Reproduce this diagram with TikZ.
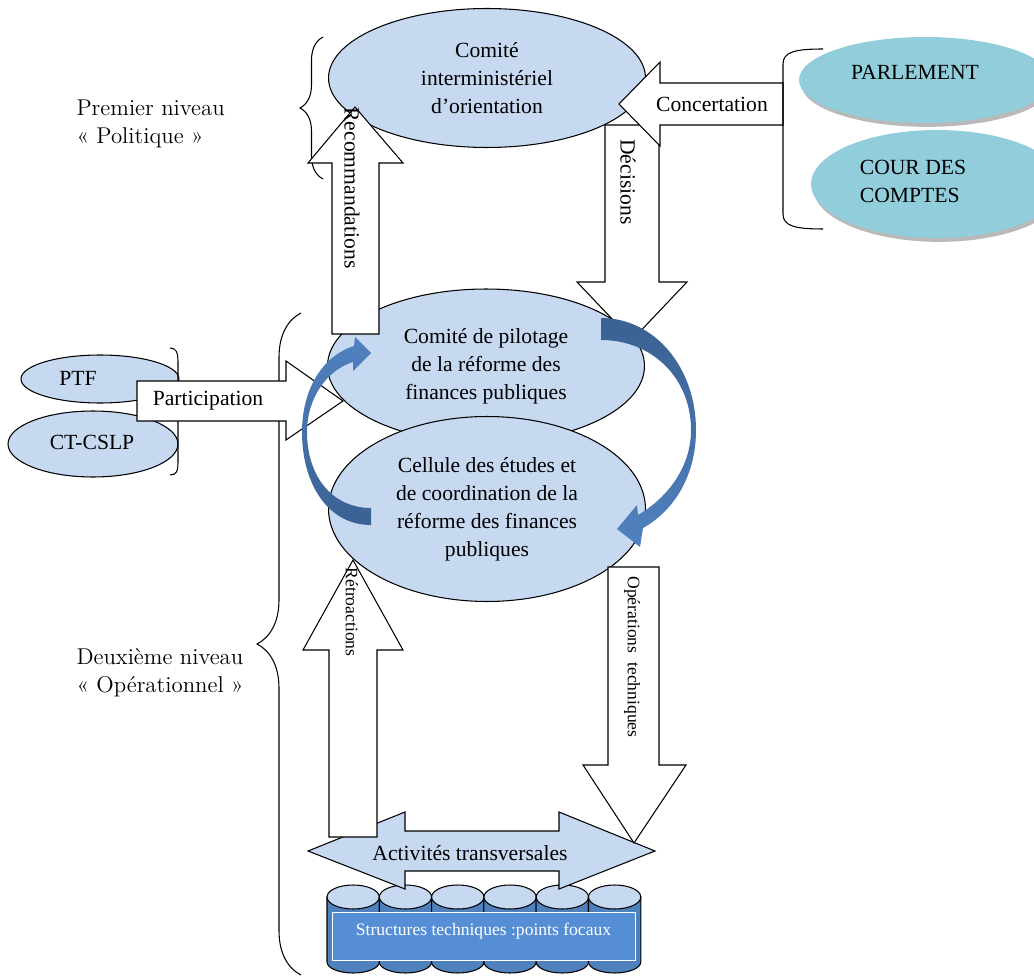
\documentclass[tikz,border=0pt]{standalone}
\usepackage{fontspec}
\newfontfamily\tnr{Liberation Serif}
\usetikzlibrary{shapes.geometric,shadows,decorations.pathreplacing}

\definecolor{paleblue}{RGB}{198,217,241}
\definecolor{seablue}{RGB}{146,205,220}
\definecolor{curvelight}{RGB}{80,130,192}
\definecolor{curvedark}{RGB}{58,97,146}
\definecolor{drumblue}{RGB}{79,129,189}
\definecolor{labelblue}{RGB}{85,142,213}

\newcommand{\diagfont}{\tnr\fontsize{12.3}{15.9}\selectfont}
\newcommand{\smallfont}{\tnr\fontsize{10}{12}\selectfont}
\newcommand{\levelfont}{\fontsize{13}{15.9}\selectfont}

\tikzstyle{instance} = [draw, ellipse, fill=paleblue, inner sep=0pt, align=center, font=\diagfont]
\tikzstyle{donor} = [draw, ellipse, fill=paleblue, inner sep=0pt]
\tikzstyle{partner} = [
    ellipse,
    fill=seablue,
    inner sep=0pt,
    drop shadow={shadow xshift=1.2pt, shadow yshift=-2.2pt, fill=black!55, opacity=.5}]
\tikzstyle{flow} = [draw, fill=white, line join=miter]
\tikzstyle{flowtext} = [inner sep=0pt, font=\diagfont]
\tikzstyle{level} = [anchor=west, align=left, inner sep=0pt, font=\levelfont]
\tikzstyle{drum} = [draw, fill=drumblue]

\begin{document}
\begin{tikzpicture}[x=0.02cm, y=-0.02cm, line width=0.6pt]
        \useasboundingbox (0,0) rectangle (1034,976);
        \clip (0,0) rectangle (1034,976);

        % the two levels
        \draw[decorate, decoration={brace, amplitude=0.46cm}] (323,179) -- (323,37);
        \draw[decorate, decoration={brace, amplitude=0.88cm}] (301,975) -- (301,313);
        \node[level] (first) at (76,124) {Premier niveau\\« Politique »};
        \node[level] (second) at (76,673) {Deuxième niveau\\« Opérationnel »};

        \node[instance, minimum width=6.34cm, minimum height=2.78cm] (cio) at (487,78)
            {Comité\\interministériel\\d’orientation};

        \draw[flow] (605,125) -- (659,125) -- (659,282) -- (687,282) -- (632,340)
            -- (577,282) -- (605,282) -- cycle;
        \node[flowtext, rotate=-90] (decisions) at (628,182) {Décisions};

        % technical and financial partners
        \node[donor, minimum width=3.16cm, minimum height=0.96cm] (ptf) at (100,379) {};
        \path (ptf.center) ++(-22,-1) node[flowtext] (ptflabel) {PTF};
        \node[donor, minimum width=3.4cm, minimum height=1.32cm] (cslp) at (93,444) {};
        \path (cslp.center) ++(-1,-2) node[flowtext] (cslplabel) {CT-CSLP};
        \draw (170,348) .. controls (176,348) and (178,352) .. (178,362) -- (178,462)
            .. controls (178,472) and (176,475) .. (170,475);

        \node[instance, minimum width=6.34cm, minimum height=3.08cm] (copil) at (486,366)
            {Comité de pilotage\\de la réforme des\\finances publiques};
        \node[instance, minimum width=6.34cm, minimum height=3.7cm] (cellule) at (487,509)
            {Cellule des études et\\de coordination de la\\réforme des finances\\publiques};

        \draw[flow] (137,381) -- (286,381) -- (286,361) -- (343,401) -- (286,440)
            -- (286,421) -- (137,421) -- cycle;
        \node[flowtext] (participation) at (208,401) {Participation};

        \draw[flow] (332,334) -- (332,163) -- (308,163) -- (355,107) -- (403,163)
            -- (379,163) -- (379,334) -- cycle;
        \node[flowtext, rotate=-90] (recommandations) at (352,188) {Recommandations};

        \draw[flow] (783,83) -- (660,83) -- (660,62) -- (619,104) -- (660,146)
            -- (660,125) -- (783,125) -- cycle;
        \node[flowtext] (concertation) at (712,104) {Concertation};

        % control bodies
        \draw (823,49) .. controls (795,49) and (783,52) .. (783,64) -- (783,214)
            .. controls (783,226) and (795,229) .. (823,229);
        \node[partner, minimum width=5.04cm, minimum height=1.72cm] (parlement) at (925,80) {};
        \path (parlement.center) ++(-10,-8) node[flowtext] (parlabel) {PARLEMENT};
        \node[partner, minimum width=5.04cm, minimum height=2.16cm] (cour) at (937,184) {};
        \path (cour.center) ++(-24,-3) node[flowtext, align=left] (courlabel) {COUR DES\\COMPTES};

        % loop between copil and cellule
        \shade[top color=curvelight, bottom color=curvedark]
            (371,525) .. controls (328,525) and (302,484) .. (302,432)
            .. controls (302,390) and (322,356) .. (354,346)
            -- (355,337) -- (371,353) -- (353,371) -- (353,362)
            .. controls (327,370) and (307,398) .. (307,432)
            .. controls (307,476) and (332,508) .. (371,508) -- cycle;
        \shade[top color=curvedark, bottom color=curvelight]
            (601,318) .. controls (655,318) and (696,368) .. (696,430)
            .. controls (696,478) and (672,512) .. (643,528)
            -- (640,547) -- (617,529) -- (637,505) -- (638,515)
            .. controls (664,500) and (691,470) .. (691,430)
            .. controls (691,378) and (652,340) .. (601,340) -- cycle;

        % focal points
        \foreach \i in {0,...,5} {
            \pgfmathsetmacro{\xl}{327+52.3*\i}
            \pgfmathsetmacro{\xr}{\xl+52.3}
            \pgfmathsetmacro{\xm}{\xl+26.15}
            \draw[drum] (\xl,897) -- (\xl,962)
                arc[start angle=180, end angle=360, x radius=0.523cm, y radius=0.22cm]
                -- (\xr,897) -- cycle;
            \draw[drum, fill=paleblue] (\xm,897) ellipse[x radius=0.523cm, y radius=0.24cm];
        }
        \node[draw=white, line width=0.4pt, fill=labelblue, text=white, font=\smallfont, inner sep=0pt,
            minimum width=6.06cm, minimum height=0.96cm, text depth=8pt] (focal) at (483.5,936)
            {Structures techniques :points focaux};

        \draw[flow, fill=paleblue] (308,851) -- (405,812) -- (405,831) -- (559,831) -- (559,812)
            -- (655,851) -- (559,889) -- (559,871) -- (405,871) -- (405,889) -- cycle;
        \node[flowtext] (transversal) at (470,853) {Activités transversales};

        \draw[flow] (329,837) -- (329,650) -- (303,650) -- (353,560) -- (403,650)
            -- (377,650) -- (377,837) -- cycle;
        \node[flowtext, rotate=-90, font=\smallfont] (retro) at (352,612) {Rétroactions};

        \draw[flow] (608,567) -- (659,567) -- (659,765) -- (686,765) -- (634,843)
            -- (583,765) -- (608,765) -- cycle;
        \node[flowtext, rotate=-90, font=\smallfont] (operations) at (632,657) {Opérations\ \ techniques};
    \end{tikzpicture}
\end{document}
